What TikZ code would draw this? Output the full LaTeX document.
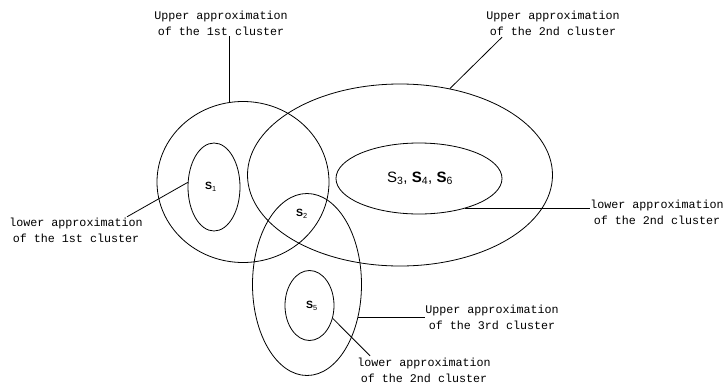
\documentclass[tikz,border=0pt]{standalone}
\usepackage{fontspec}
\setmonofont{Liberation Mono}
\newfontfamily\labfont{Liberation Mono}
\newfontfamily\selfont{Liberation Sans}
\usetikzlibrary{shapes.geometric}
\newcommand{\sv}[1]{\textbf{S}\textsubscript{#1}}
\begin{document}
\begin{tikzpicture}[x=1pt, y=-1pt, line width=.8pt,
  set/.style={draw, ellipse, inner sep=0pt},
  lab/.style={align=center, inner sep=0pt, font=\labfont\fontsize{11.7}{16}\selectfont},
  elem/.style={inner sep=0pt, font=\selfont\fontsize{10.5}{12}\selectfont}]
\useasboundingbox (0,0) rectangle (724,389);
% clusters
\node[set, minimum width=172pt, minimum height=161pt] (up1) at (243,182) {};
\node[set, minimum width=52pt, minimum height=88pt] (low1) at (214,187) {};
\node[set, minimum width=305pt, minimum height=182pt] (up2) at (400,175) {};
\node[set, minimum width=166pt, minimum height=71pt] (low2) at (419,178.5) {};
\node[set, minimum width=109pt, minimum height=182pt] (up3) at (307,284.5) {};
\node[set, minimum width=49pt, minimum height=70pt] (low3) at (309.5,305.5) {};
% objects
\node[elem] (s1) at (211,187) {\sv{1}};
\node[elem] (s2) at (302,214) {\sv{2}};
\node[elem, font=\selfont\fontsize{15}{17}\selectfont] (s346) at (420,178)
  {S\textsubscript{3}, \sv{4}, \sv{6}};
\node[elem] (s5) at (312,306) {\sv{5}};
% labels
\node[lab] (lab1) at (221,23.5) {Upper approximation\\of the 1st cluster};
\node[lab] (lab2) at (553,23.5) {Upper approximation\\of the 2nd cluster};
\node[lab] (lab3) at (76,230.5) {lower approximation\\of the 1st cluster};
\node[lab] (lab4) at (657,212.5) {lower approximation\\of the 2nd cluster};
\node[lab] (lab5) at (492,317.5) {Upper approximation\\of the 3rd cluster};
\node[lab] (lab6) at (424,370.5) {lower approximation\\of the 2nd cluster};
% pointers
\draw (up1.100) -- (up1.100 |- lab1.south);
\draw (up2.60.6) -- ([xshift=-51pt, yshift=-1pt]lab2.south);
\draw (low1.170) -- ([xshift=51pt, yshift=1pt]lab3.north);
\draw (low2.-33) -- (low2.-33 -| lab4.west);
\draw (up3.-33) -- (up3.-33 -| lab5.west);
\draw (low3.-29) -- ([xshift=-54pt, yshift=2pt]lab6.north);
\end{tikzpicture}
\end{document}
